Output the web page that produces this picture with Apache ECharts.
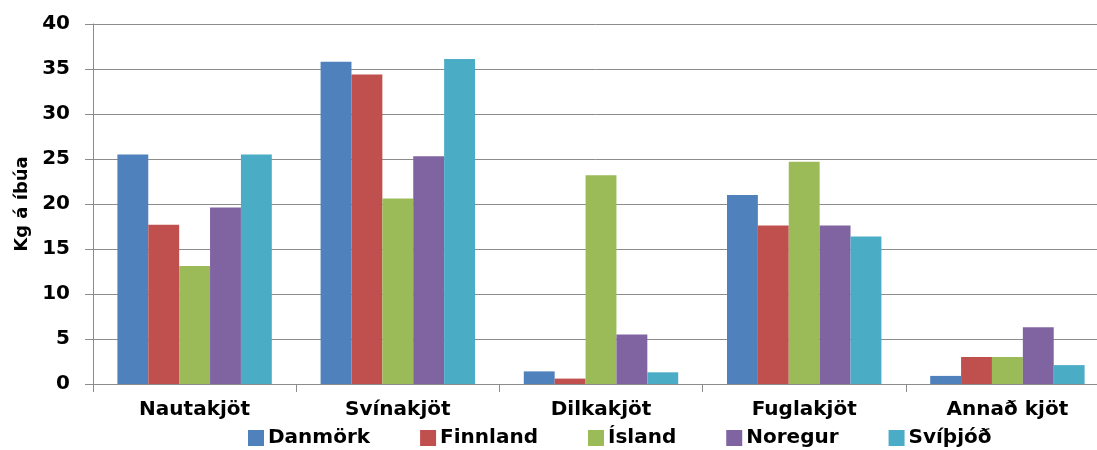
<!DOCTYPE html>
<html>
<head>
<meta charset="utf-8">
<script src="https://cdn.jsdelivr.net/npm/echarts@6/dist/echarts.min.js"></script>
<style>
  html, body { margin: 0; padding: 0; background: #ffffff; }
  #chart { width: 1097px; height: 450px; }
</style>
</head>
<body>
<div id="chart"></div>
<script>
// Meat consumption per inhabitant (kg) in the Nordic countries
const categories = ['Nautakjöt', 'Svínakjöt', 'Dilkakjöt', 'Fuglakjöt', 'Annað kjöt'];
const countries = ['Danmörk', 'Finnland', 'Ísland', 'Noregur', 'Svíþjóð'];
const danmork  = [25.5, 35.8, 1.4, 21.0, 0.9];
const finnland = [17.7, 34.4, 0.6, 17.6, 3.0];
const island   = [13.1, 20.6, 23.2, 24.7, 3.0];
const noregur  = [19.6, 25.3, 5.5, 17.6, 6.3];
const svithjod = [25.5, 36.1, 1.3, 16.4, 2.1];
const yTicks = [0, 5, 10, 15, 20, 25, 30, 35, 40];

const seriesValues = [danmork, finnland, island, noregur, svithjod];
const colors = ['#4F81BD', '#C0504D', '#9BBB59', '#8064A2', '#4BACC6'];
const font = 'DejaVu Sans';
const axisGray = '#8c8c8c';

const chart = echarts.init(document.getElementById('chart'), null, { renderer: 'canvas' });
chart.setOption({
  animation: false,
  backgroundColor: '#ffffff',
  color: colors,
  // the last category runs slightly past the right edge of the canvas
  grid: { left: 93, top: 24, width: 1016, height: 360, containLabel: false, outerBoundsMode: 'none' },
  legend: {
    data: countries,
    top: 428,
    left: 248,
    padding: 0,
    itemWidth: 16,
    itemHeight: 16,
    itemGap: 50,
    icon: 'rect',
    textStyle: { fontFamily: font, fontWeight: 'bold', fontSize: 20, color: '#000', padding: [0, 0, 0, -1] }
  },
  xAxis: {
    type: 'category',
    data: categories,
    axisLine: { lineStyle: { color: axisGray, width: 1 } },
    axisTick: { show: true, length: 8, lineStyle: { color: axisGray } },
    axisLabel: { margin: 16, fontFamily: font, fontWeight: 'bold', fontSize: 20, color: '#000' }
  },
  yAxis: {
    type: 'value',
    min: yTicks[0],
    max: yTicks[yTicks.length - 1],
    interval: yTicks[1] - yTicks[0],
    name: 'Kg á íbúa',
    nameLocation: 'middle',
    nameGap: 62,
    nameRotate: 90,
    nameTextStyle: { fontFamily: font, fontWeight: 'bold', fontSize: 18, color: '#000' },
    axisLine: { show: true, lineStyle: { color: axisGray, width: 1 } },
    axisTick: { show: true, length: 8, lineStyle: { color: axisGray } },
    axisLabel: { margin: 23, fontFamily: font, fontWeight: 'bold', fontSize: 20, color: '#000' },
    splitLine: { show: true, lineStyle: { color: axisGray, width: 1 } }
  },
  series: countries.map((name, i) => ({
    name: name,
    type: 'bar',
    data: seriesValues[i],
    barGap: '0%',
    barCategoryGap: '24%',
    itemStyle: { color: colors[i] }
  }))
});
</script>
</body>
</html>
